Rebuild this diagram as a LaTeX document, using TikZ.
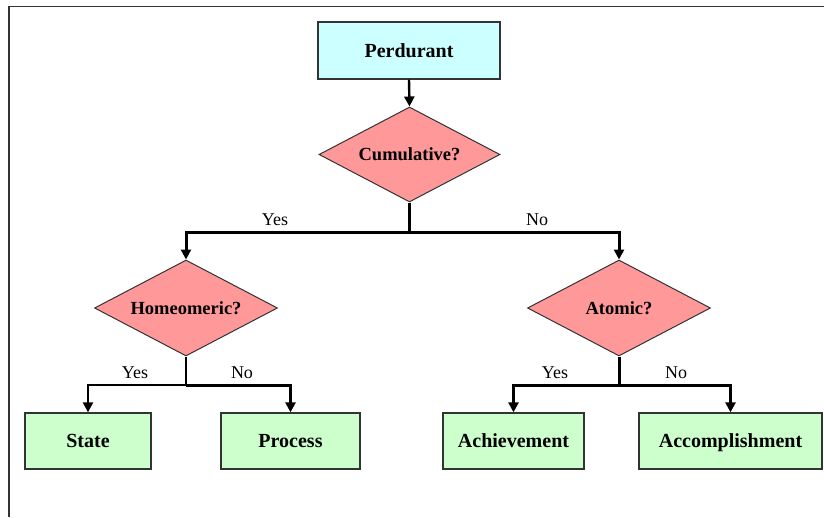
\documentclass[tikz,border=0pt]{standalone}
\usepackage{fontspec}
\setmainfont{Liberation Serif}
\usetikzlibrary{shapes.geometric,arrows.meta}
\definecolor{topfill}{HTML}{CCFFFF}
\definecolor{askfill}{HTML}{FF9999}
\definecolor{leaffill}{HTML}{CCFFCC}
\definecolor{edge}{HTML}{333333}
\tikzset{
  rootbox/.style={draw=edge, line width=1.3pt, fill=topfill, minimum width=182pt, minimum height=57pt,
    inner sep=0pt, text height=13.4pt, text depth=0pt, font=\fontsize{20}{22}\selectfont\bfseries},
  askbox/.style={draw=edge, line width=1pt, fill=askfill, diamond, aspect=1.9, minimum width=183pt, minimum height=96pt,
    inner sep=0pt, font=\fontsize{18.5}{20}\selectfont\bfseries},
  leafbox/.style={draw=edge, line width=1.3pt, fill=leaffill, minimum height=56pt, inner sep=0pt,
    text height=13.4pt, text depth=0pt, font=\fontsize{20}{22}\selectfont\bfseries},
  flow/.style={line width=3pt, -{Triangle[length=10pt,width=10pt]}},
  flowthin/.style={line width=2.4pt, -{Triangle[length=10pt,width=10pt]}},
  trunk/.style={line width=2.4pt},
  answer/.style={font=\fontsize{18}{20}\selectfont, inner sep=0pt},
}
\begin{document}
\begin{tikzpicture}[x=1pt, y=-1pt]
\useasboundingbox (0,0) rectangle (824,517);
% partial frame
\draw[line width=1.6pt, edge] (9,517) -- (9,6.5) -- (824,6.5);

% nodes
\node[rootbox] (perd) at (409,50.5) {Perdurant};
\node[askbox, minimum width=181pt, minimum height=95pt] (cum) at (409.5,154.5) {Cumulative?};
\node[askbox] (hom) at (186,308) {Homeomeric?};
\node[askbox] (atom) at (619,308) {Atomic?};
\node[leafbox, minimum width=126pt] (state) at (88,441) {State};
\node[leafbox, minimum width=139pt] (proc) at (290.5,441) {Process};
\node[leafbox, minimum width=141pt] (ach) at (513.5,441) {Achievement};
\node[leafbox, minimum width=183pt] (acc) at (730.5,441) {Accomplishment};

% branch points
\coordinate (cj) at (409.5,232);
\coordinate (hj) at (186,385);
\coordinate (aj) at (619,385);

% connectors
\draw[flowthin] (perd.south) -- (cum.north);
\draw[trunk] (cum.south) -- (cj);
\draw[flow] (cj) -| (hom.north);
\draw[flow] (cj) -| (atom.north);
\draw[trunk] (hom.south) -- (hj);
\draw[flowthin] (hj) -| (state.north);
\draw[flow] (hj) -| (proc.north);
\draw[line width=3pt] (atom.south) -- (aj);
\draw[flow] (aj) -| (ach.north);
\draw[flow] (aj) -| (acc.north);

% answers
\node[answer] (y1) at (275,220) {Yes};
\node[answer] (n1) at (537,220) {No};
\node[answer] (y2) at (135,373) {Yes};
\node[answer] (n2) at (242,373) {No};
\node[answer] (y3) at (555,373) {Yes};
\node[answer] (n3) at (676,373) {No};
\end{tikzpicture}
\end{document}
